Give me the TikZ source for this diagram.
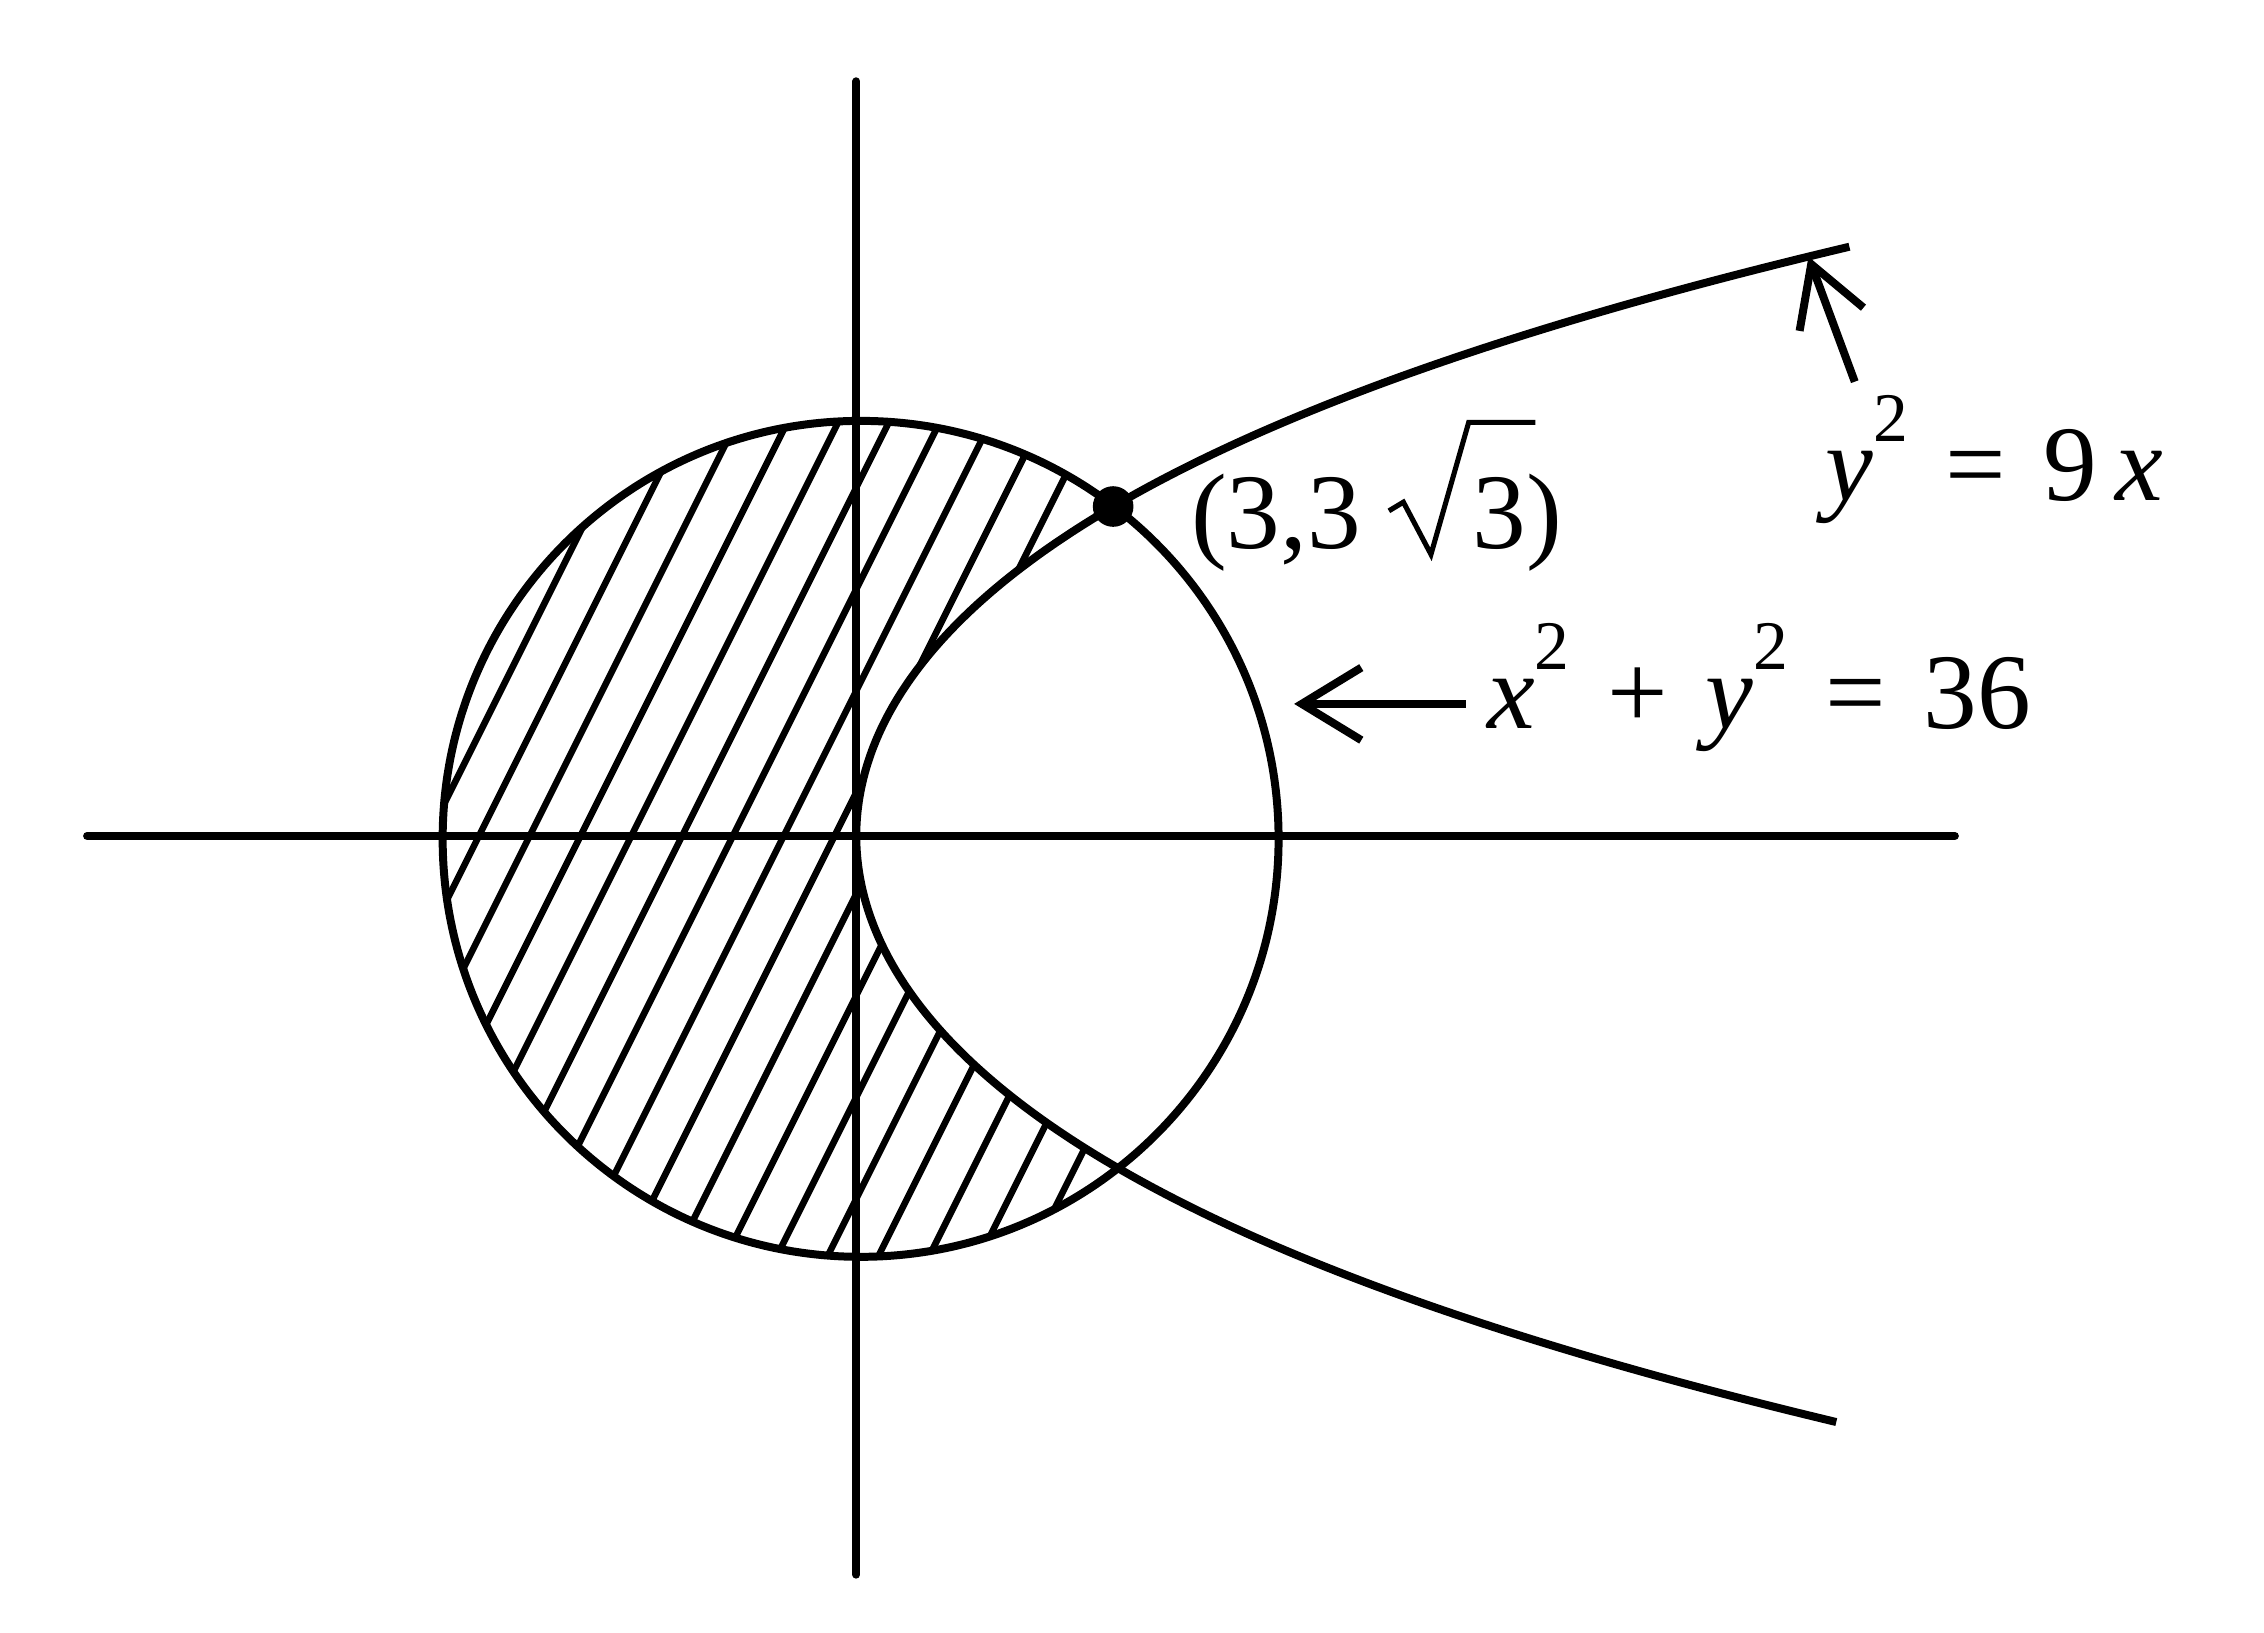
\documentclass[tikz,border=0pt]{standalone}
\usepackage{fontspec}
\setmainfont{Liberation Serif}
\newcommand{\supr}[1]{\raisebox{0.55em}{\fontsize{48}{50}\selectfont #1}}
\newcommand{\gap}{\hspace{0.35em}}
\begin{document}
\begin{tikzpicture}[x=1pt,y=-1pt,line width=5.5pt,
  lbl/.style={font=\fontsize{74}{78}\selectfont,inner sep=0pt}]
\useasboundingbox (0,0) rectangle (1560,1125);
\coordinate (O) at (590,576);
% axes
\draw[line cap=round] (60,576) -- (1347,576);
\draw[line cap=round] (590,56) -- (590,1085);
% hatching
\begin{scope}
\clip (593,578) circle (288);
\clip (200,170) -- (1275,170) -- plot[domain=-4.06:4.04,samples=80,smooth] ({590+31.13*\x*\x+0.63*\x*\x*\x*\x},{576+100*\x}) -- (1275,980) -- (200,980) -- cycle;
\foreach \k in {-12,...,14}{
  \draw[line width=4.5pt] ({575+35*\k-150},{576+300}) -- ({575+35*\k+150},{576-300});
}
\end{scope}
% circle
\draw (593,578) circle (288);
% parabola
\draw plot[domain=-4.06:4.04,samples=120,smooth] ({590+31.13*\x*\x+0.63*\x*\x*\x*\x},{576+100*\x});
\node[circle,fill,inner sep=0pt,minimum size=28pt] (P) at (767,349) {};
\node[lbl,anchor=base west] (L1) at (818,378) {(3,3};
\node[lbl,anchor=base west] (L1b) at (1012,378) {3)};
\draw[line width=3.5pt,line join=miter] (957,352) -- (967,346) -- (986,382) -- (1012,291) -- (1058,291);
\node[lbl,anchor=base west] (L2) at (1022,502) {\textit{x}\supr{2}\gap+\gap\textit{y}\supr{2}\gap=\gap36};
\node[lbl,anchor=base west] (L3) at (1255,345) {\textit{y}\supr{2}\gap=\gap9\,\textit{x}};
\coordinate (A1) at (1010,485);
\coordinate (A2) at (897,485);
\draw (A1) -- (A2);
\draw (938,460) -- (A2) -- (938,510);
\coordinate (B1) at (1278,263);
\coordinate (B2) at (1248,182);
\draw (B1) -- (B2);
\draw (1240,228) -- (B2) -- (1284,212);
\end{tikzpicture}
\end{document}
